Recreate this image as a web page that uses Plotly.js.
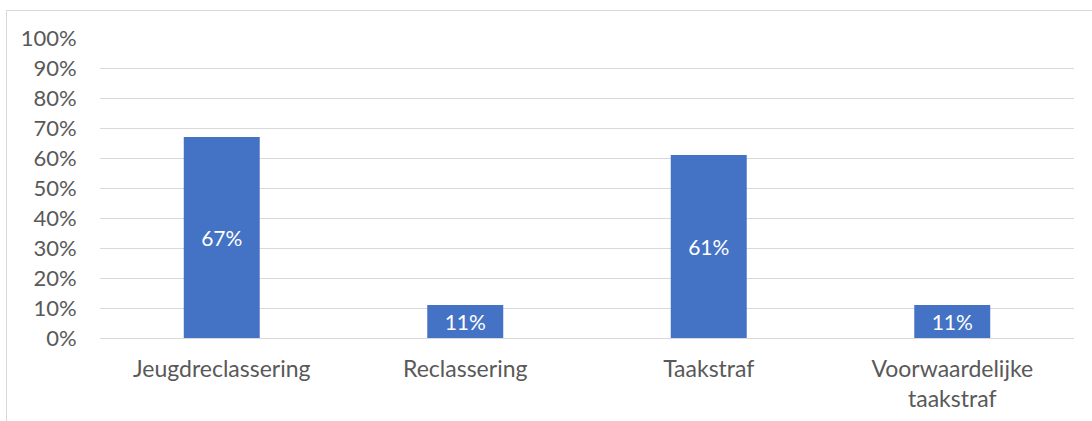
<!DOCTYPE html>
<html>
<head>
<meta charset="utf-8">
<script src="https://cdn.plot.ly/plotly-3.0.1.min.js"></script>
<style>
html,body{margin:0;padding:0;background:#fff;overflow:hidden;}
#frame{position:absolute;left:6px;top:10px;width:1200px;height:500px;border-left:1px solid #d9d9d9;border-top:1px solid #d9d9d9;}
#chart{position:absolute;left:0;top:0;width:1092px;height:421px;}
</style>
</head>
<body>
<div id="frame"></div>
<div id="chart"></div>
<script>
const categories = ["Jeugdreclassering", "Reclassering", "Taakstraf", "Voorwaardelijke taakstraf"];
const tickLabels = ["Jeugdreclassering", "Reclassering", "Taakstraf", "Voorwaardelijke<br>taakstraf"];
const values = [0.67, 0.11, 0.61, 0.11];
const valueLabels = ["67%", "11%", "61%", "11%"];
const yTickVals = [0, 0.1, 0.2, 0.3, 0.4, 0.5, 0.6, 0.7, 0.8, 0.9, 1.0];
const yTickText = ["0%", "10%", "20%", "30%", "40%", "50%", "60%", "70%", "80%", "90%", "100%"];

const FONT = "Lato, 'Open Sans', sans-serif";

const trace = {
  type: "bar",
  x: categories,
  y: values,
  text: valueLabels,
  textposition: "inside",
  insidetextanchor: "middle",
  textangle: 0,
  constraintext: "none",
  textfont: {family: FONT, size: 21, color: "#ffffff"},
  marker: {color: "#4472C4"},
  hoverinfo: "none"
};

const layout = {
  width: 1092,
  height: 421,
  margin: {l: 100, r: 18, t: 38, b: 83, pad: 0},
  paper_bgcolor: "rgba(0,0,0,0)",
  plot_bgcolor: "rgba(0,0,0,0)",
  bargap: 0.688,
  showlegend: false,
  xaxis: {
    type: "category",
    tickvals: categories,
    ticktext: tickLabels,
    showgrid: false,
    zeroline: false,
    showline: false,
    ticks: "outside",
    ticklen: 10,
    tickcolor: "rgba(0,0,0,0)",
    tickfont: {family: FONT, size: 23, color: "#595959"}
  },
  yaxis: {
    range: [0, 1.0],
    tickvals: yTickVals,
    ticktext: yTickText,
    showgrid: true,
    gridcolor: "#d9d9d9",
    gridwidth: 1,
    zeroline: true,
    zerolinecolor: "#d9d9d9",
    zerolinewidth: 1,
    showline: false,
    ticks: "outside",
    ticklen: 18,
    tickcolor: "rgba(0,0,0,0)",
    tickfont: {family: FONT, size: 22, color: "#595959"}
  }
};

Plotly.newPlot("chart", [trace], layout, {displayModeBar: false, staticPlot: true});
</script>
</body>
</html>
